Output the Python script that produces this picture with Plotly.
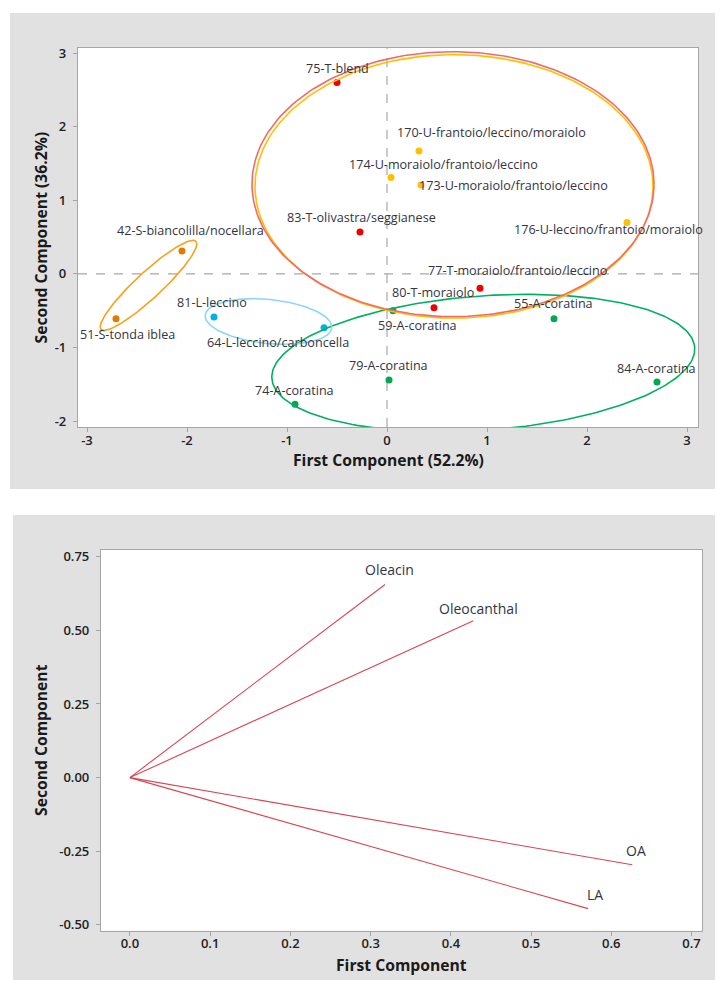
import numpy as np
import plotly.graph_objects as go

# score plot data
sample_names = [
    "75-T-blend", "170-U-frantoio/leccino/moraiolo", "174-U-moraiolo/frantoio/leccino",
    "173-U-moraiolo/frantoio/leccino", "176-U-leccino/frantoio/moraiolo",
    "83-T-olivastra/seggianese", "42-S-biancolilla/nocellara", "51-S-tonda iblea",
    "81-L-leccino", "64-L-leccino/carboncella", "74-A-coratina", "80-T-moraiolo",
    "77-T-moraiolo/frantoio/leccino", "59-A-coratina", "55-A-coratina",
    "79-A-coratina", "84-A-coratina",
]
pc1_scores = [-0.50, 0.32, 0.04, 0.34, 2.40, -0.27, -2.05, -2.71, -1.73, -0.63,
              -0.92, 0.47, 0.93, 0.06, 1.67, 0.02, 2.70]
pc2_scores = [2.60, 1.67, 1.31, 1.21, 0.70, 0.57, 0.31, -0.61, -0.585, -0.73,
              -1.77, -0.46, -0.195, -0.50, -0.61, -1.44, -1.47]
sample_groups = ["T", "U", "U", "U", "U", "T", "S", "S", "L", "L",
                 "A", "T", "T", "A", "A", "A", "A"]

# loading plot data
variables = ["Oleacin", "Oleocanthal", "OA", "LA"]
pc1_loadings = [0.318, 0.428, 0.626, 0.571]
pc2_loadings = [0.656, 0.533, -0.296, -0.445]

score_xticks = [-3, -2, -1, 0, 1, 2, 3]
score_yticks = [-2, -1, 0, 1, 2, 3]
load_xticks = [0.0, 0.1, 0.2, 0.3, 0.4, 0.5, 0.6, 0.7]
load_yticks = [-0.50, -0.25, 0.00, 0.25, 0.50, 0.75]

group_colors = {"T": "#EE0000", "U": "#FFC000", "S": "#E07B00", "L": "#00B0E8", "A": "#00A850"}

# group ellipses: centre and two conjugate half-axis vectors (data units)
ellipses = [
    dict(c=(0.963, -1.211), u=(2.114, 0.211), v=(0.049, -0.910), color="#00B060"),
    dict(c=(-1.185, -0.646), u=(0.633, -0.086), v=(-0.022, -0.298), color="#8CD8F6"),
    dict(c=(-2.385, -0.156), u=(0.475, 0.599), v=(0.088, -0.130), color="#F5A21E"),
    dict(c=(0.67, 1.19), u=(1.99, 0.0), v=(0.0, 1.79), color="#FFC000"),
    dict(c=(0.66, 1.22), u=(2.01, 0.0), v=(0.0, 1.80), color="#F26A6A"),
]

# label offsets in pixels (dx, dy up)
label_shift = {
    "75-T-blend": (0, 14), "170-U-frantoio/leccino/moraiolo": (72, 19),
    "174-U-moraiolo/frantoio/leccino": (52, 13), "173-U-moraiolo/frantoio/leccino": (92, -1),
    "176-U-leccino/frantoio/moraiolo": (-19, -7), "83-T-olivastra/seggianese": (1, 14),
    "42-S-biancolilla/nocellara": (8, 21), "51-S-tonda iblea": (11, -16),
    "81-L-leccino": (-2, 14), "64-L-leccino/carboncella": (-46, -15),
    "74-A-coratina": (-1, 14), "80-T-moraiolo": (-1, 15),
    "77-T-moraiolo/frantoio/leccino": (37, 18), "59-A-coratina": (24, -15),
    "55-A-coratina": (-1, 15), "79-A-coratina": (-1, 14), "84-A-coratina": (-1, 14),
}
loading_shift = {"Oleacin": (4, 15), "Oleocanthal": (5, 12), "OA": (4, 14), "LA": (7, 14)}

# the page body has an 8px margin, so the figure is a bit smaller than the window
PAGE_M = 8
W, H = 723 - 2 * PAGE_M, 988 - 2 * PAGE_M
FONT = "Open Sans"
TXT = "#34343F"
AX = "#A6A6A6"


def px(x):
    return (x - PAGE_M) / W


def py(y):
    return 1 - (y - PAGE_M) / H


fig = go.Figure()

# score points
for g in ["T", "U", "S", "L", "A"]:
    idx = [i for i, s in enumerate(sample_groups) if s == g]
    fig.add_trace(go.Scatter(
        x=[pc1_scores[i] for i in idx], y=[pc2_scores[i] for i in idx],
        mode="markers", marker=dict(size=7, color=group_colors[g]),
        xaxis="x", yaxis="y", showlegend=False,
    ))

t = np.linspace(0, 2 * np.pi, 240)
for e in ellipses:
    ex = e["c"][0] + e["u"][0] * np.cos(t) + e["v"][0] * np.sin(t)
    ey = e["c"][1] + e["u"][1] * np.cos(t) + e["v"][1] * np.sin(t)
    fig.add_trace(go.Scatter(x=ex, y=ey, mode="lines", line=dict(color=e["color"], width=1.6),
                             xaxis="x", yaxis="y", showlegend=False, hoverinfo="skip"))

# loading vectors
for name, lx, ly in zip(variables, pc1_loadings, pc2_loadings):
    fig.add_trace(go.Scatter(x=[0, lx], y=[0, ly], mode="lines",
                             line=dict(color="#D8464E", width=1.1),
                             xaxis="x2", yaxis="y2", showlegend=False))

annotations = []
for name, x, y in zip(sample_names, pc1_scores, pc2_scores):
    dx, dy = label_shift[name]
    annotations.append(dict(x=x, y=y, xref="x", yref="y", text=name, showarrow=False,
                            xanchor="center", yanchor="middle", xshift=dx, yshift=dy,
                            font=dict(family=FONT, size=12.6, color=TXT)))
for name, x, y in zip(variables, pc1_loadings, pc2_loadings):
    dx, dy = loading_shift[name]
    annotations.append(dict(x=x, y=y, xref="x2", yref="y2", text=name, showarrow=False,
                            xanchor="center", yanchor="middle", xshift=dx, yshift=dy,
                            font=dict(family=FONT, size=14, color=TXT)))

title_font = dict(family=FONT, size=15.7, color="#1A1A1A", weight="bold")
for text, x, y, ang in [("First Component (52.2%)", 388, 460, 0),
                        ("Second Component (36.2%)", 40, 237.5, -90),
                        ("First Component", 401.5, 965, 0),
                        ("Second Component", 41, 740, -90)]:
    annotations.append(dict(x=px(x), y=py(y), xref="paper", yref="paper", text=text,
                            showarrow=False, textangle=ang, xanchor="center",
                            yanchor="middle", font=title_font))

shapes = [
    dict(type="rect", xref="paper", yref="paper", x0=px(10), x1=1, y0=py(489), y1=py(13),
         fillcolor="#E1E1E1", line=dict(width=0), layer="below"),
    dict(type="rect", xref="paper", yref="paper", x0=px(13), x1=1, y0=0, y1=py(515),
         fillcolor="#E1E1E1", line=dict(width=0), layer="below"),
    dict(type="rect", xref="x domain", yref="y domain", x0=0, x1=1, y0=0, y1=1,
         fillcolor="white", line=dict(width=0), layer="below"),
    dict(type="rect", xref="x2 domain", yref="y2 domain", x0=0, x1=1, y0=0, y1=1,
         fillcolor="white", line=dict(width=0), layer="below"),
    dict(type="line", xref="x", yref="y domain", x0=0, x1=0, y0=0, y1=1,
         line=dict(color="#A8A8A8", width=1.2, dash="dash"), layer="below"),
    dict(type="line", xref="x domain", yref="y", x0=0, x1=1, y0=0, y1=0,
         line=dict(color="#A8A8A8", width=1.2, dash="dash"), layer="below"),
]

tick_font = dict(family=FONT, size=13, color="#222222", weight=600)
axis_style = dict(showline=True, linecolor=AX, linewidth=1.2, mirror=True, ticks="outside",
                  ticklen=4, tickcolor=AX, showgrid=False, zeroline=False, automargin=False,
                  tickfont=tick_font)

fig.update_layout(
    width=W, height=H, margin=dict(l=0, r=0, t=0, b=0),
    paper_bgcolor="white", plot_bgcolor="rgba(0,0,0,0)",
    xaxis=dict(domain=[px(78), px(698)], range=[-3.09, 3.11], tickvals=score_xticks,
               ticktext=[f"{v:g}" for v in score_xticks], ticklabelstandoff=-3,
               anchor="y", **axis_style),
    yaxis=dict(domain=[py(427), py(48)], range=[-2.08, 3.07], tickvals=score_yticks,
               ticktext=[f"{v:g}" for v in score_yticks], ticklabelstandoff=4,
               anchor="x", **axis_style),
    xaxis2=dict(domain=[px(101), px(702)], range=[-0.036, 0.713], tickvals=load_xticks,
                ticktext=[f"{v:.1f}" for v in load_xticks], ticklabelstandoff=-3,
                anchor="y2", **axis_style),
    yaxis2=dict(domain=[py(930.7), py(550)], range=[-0.52, 0.773], tickvals=load_yticks,
                ticktext=[f"{v:.2f}" for v in load_yticks], ticklabelstandoff=4,
                anchor="x2", **axis_style),
    annotations=annotations, shapes=shapes,
)

fig.write_html("out.html")
